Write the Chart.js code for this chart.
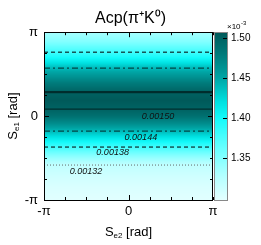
<!DOCTYPE html>
<html><head><meta charset="utf-8">
<script src="https://cdn.jsdelivr.net/npm/chart.js@4/dist/chart.umd.min.js"></script>
<style>html,body{margin:0;padding:0;background:#fff}#wrap{width:261px;height:245px}</style>
</head><body><div id="wrap"><canvas id="c" width="261" height="245"></canvas></div>
<script>
const PI = Math.PI;
// Acp profile (×10^-3) versus S_e1, constant along S_e2
const rowSe1 = [-PI, -2.6, -2.2, -1.83, -1.5, -1.16, -0.85, -0.56, -0.3, 0, 0.26, 0.58, 0.898, 1.3, 1.795, 2.1, 2.394, 2.8, PI];
const rowAcp = [1.300, 1.305, 1.312, 1.320, 1.347, 1.380, 1.412, 1.440, 1.465, 1.488, 1.500, 1.507, 1.500, 1.475, 1.440, 1.408, 1.380, 1.350, 1.333];
// contour crossings
const contourLevel = [1.32, 1.38, 1.38, 1.44, 1.44, 1.50, 1.50];
const contourSe1 = [-1.833, -1.159, 2.394, -0.561, 1.795, 0.262, 0.898];
// contour labels
const labelText = ['0.00150', '0.00144', '0.00138', '0.00132'];
const labelSe2 = [1.10, 0.46, -0.59, -1.58];
const labelSe1 = [0.0, -0.81, -1.38, -2.09];
// axes
const axisTicks = [-PI, 0, PI];
const axisTickLabels = ['-π', '0', 'π'];
const cbTicks = [1.35, 1.40, 1.45, 1.50];
const cbRange = [1.298, 1.507];

const FONT = "'Liberation Sans', Arial, Helvetica, sans-serif";

const cmapStops = [
  [1.298, [228,255,255]],
  [1.33, [175,255,255]],
  [1.36, [110,255,255]],
  [1.40, [20,250,250]],
  [1.42, [0,225,225]],
  [1.45, [0,165,165]],
  [1.48, [0,122,122]],
  [1.507, [0,90,90]]
];
function cmap(v){
  if (v <= cmapStops[0][0]) return 'rgb(' + cmapStops[0][1].join(',') + ')';
  for (let i = 1; i < cmapStops.length; i++) {
    if (v <= cmapStops[i][0]) {
      const a = cmapStops[i-1], b = cmapStops[i];
      const t = (v - a[0]) / (b[0] - a[0]);
      const c = a[1].map((x, k) => Math.round(x + (b[1][k] - x) * t));
      return 'rgb(' + c.join(',') + ')';
    }
  }
  return 'rgb(' + cmapStops[cmapStops.length-1][1].join(',') + ')';
}
function profile(y){
  if (y <= rowSe1[0]) return rowAcp[0];
  for (let i = 1; i < rowSe1.length; i++) {
    if (y <= rowSe1[i]) {
      const t = (y - rowSe1[i-1]) / (rowSe1[i] - rowSe1[i-1]);
      return rowAcp[i-1] + (rowAcp[i] - rowAcp[i-1]) * t;
    }
  }
  return rowAcp[rowAcp.length-1];
}

const styleFor = {
  1.32: {color: 'rgba(90,90,90,0.9)', dash: [1, 2], width: 1},
  1.38: {color: '#000', dash: [4, 3], width: 1},
  1.44: {color: 'rgba(0,50,50,0.85)', dash: [6, 3, 2, 3], width: 1.2},
  1.50: {color: 'rgba(0,40,40,0.9)', dash: [], width: 1.3}
};

const datasets = contourLevel.map((lv, i) => {
  const s = styleFor[lv];
  return {
    type: 'line',
    data: [{x: -PI, y: contourSe1[i]}, {x: PI, y: contourSe1[i]}],
    borderColor: s.color, borderDash: s.dash,
    borderWidth: (lv === 1.50 && contourSe1[i] > 0.5) ? 2.2 : s.width,
    pointRadius: 0, fill: false
  };
});

const heatmap = {
  id: 'heatmap',
  beforeDatasetsDraw(chart){
    const {ctx, chartArea: a, scales} = chart;
    const ys = scales.y;
    ctx.save();
    for (let py = Math.floor(a.top); py < a.bottom; py++) {
      const v = profile(ys.getValueForPixel(py + 0.5));
      ctx.fillStyle = cmap(v);
      ctx.fillRect(a.left, py, a.right - a.left, 1);
    }
    ctx.restore();
  },
  afterDatasetsDraw(chart){
    const {ctx, chartArea: a, scales} = chart;
    const xs = scales.x, ys = scales.y, cb = scales.cb;
    ctx.save();
    // contour labels
    ctx.font = "italic 9px " + FONT;
    ctx.fillStyle = '#111';
    ctx.textAlign = 'center'; ctx.textBaseline = 'middle';
    labelText.forEach((t, i) => ctx.fillText(t, xs.getPixelForValue(labelSe2[i]), ys.getPixelForValue(labelSe1[i])));
    // frame
    ctx.strokeStyle = '#000'; ctx.lineWidth = 1;
    ctx.strokeRect(Math.round(a.left) + 0.5, Math.round(a.top) + 0.5, Math.round(a.right - a.left) - 1, Math.round(a.bottom - a.top));
    // ticks every pi/4
    ctx.beginPath();
    for (let k = -4; k <= 4; k++) {
      const v = k * PI / 4;
      const L = k === 0 ? 5 : 3;
      const px = Math.round(xs.getPixelForValue(v)) + 0.5;
      const py = Math.round(ys.getPixelForValue(v)) + 0.5;
      ctx.moveTo(px, a.bottom); ctx.lineTo(px, a.bottom - L);
      ctx.moveTo(px, a.top); ctx.lineTo(px, a.top + L);
      ctx.moveTo(a.left, py); ctx.lineTo(a.left + L, py);
      ctx.moveTo(a.right, py); ctx.lineTo(a.right - L, py);
    }
    ctx.stroke();
    // colorbar
    const x0 = a.right + 1, x1 = a.right + 15;
    const t0 = cb.getPixelForValue(cbRange[1]), b0 = cb.getPixelForValue(cbRange[0]);
    for (let py = Math.floor(t0); py < b0; py++) {
      ctx.fillStyle = cmap(cb.getValueForPixel(py + 0.5));
      ctx.fillRect(x0, py, x1 - x0, 1);
    }
    ctx.strokeStyle = '#888'; ctx.lineWidth = 1;
    ctx.strokeRect(x0 + 0.5, Math.round(t0) + 0.5, x1 - x0 - 1, Math.round(b0 - t0));
    ctx.strokeStyle = '#000';
    ctx.beginPath();
    cbTicks.forEach(v => {
      const py = Math.round(cb.getPixelForValue(v)) + 0.5;
      ctx.moveTo(x1 - 5, py); ctx.lineTo(x1 - 1, py);
    });
    ctx.stroke();
    // exponent
    ctx.fillStyle = '#000';
    ctx.textAlign = 'left'; ctx.textBaseline = 'alphabetic';
    ctx.font = "8px " + FONT;
    ctx.fillText('×10', x1 - 1, a.top - 3);
    ctx.font = "6px " + FONT;
    ctx.fillText('-3', x1 + 13, a.top - 7);
    // axis titles with subscripts
    function subTitle(main, sub, rest){
      ctx.font = "13px " + FONT;
      const w1 = ctx.measureText(main).width;
      ctx.font = "8px " + FONT;
      const w2 = ctx.measureText(sub).width;
      ctx.font = "13px " + FONT;
      const w3 = ctx.measureText(rest).width;
      const W = w1 + w2 + w3;
      let x = -W / 2;
      ctx.textAlign = 'left'; ctx.textBaseline = 'middle';
      ctx.fillText(main, x, 0); x += w1;
      ctx.font = "8px " + FONT;
      ctx.fillText(sub, x, 4); x += w2;
      ctx.font = "13px " + FONT;
      ctx.fillText(rest, x, 0);
    }
    ctx.save();
    ctx.translate((a.left + a.right) / 2, 232);
    subTitle('S', 'e2', ' [rad]');
    ctx.restore();
    ctx.save();
    ctx.translate(13, (a.top + a.bottom) / 2);
    ctx.rotate(-PI / 2);
    subTitle('S', 'e1', ' [rad]');
    ctx.restore();
    ctx.restore();
  }
};

function fixedTicks(list){ return s => { s.ticks = list.map(v => ({value: v})); }; }

new Chart(document.getElementById('c'), {
  type: 'scatter',
  data: {datasets},
  plugins: [heatmap],
  options: {
    responsive: false, animation: false, events: [],
    layout: {padding: {left: 0, right: 0, top: 0, bottom: 0}},
    plugins: {
      legend: {display: false}, tooltip: {enabled: false},
      title: {display: true, text: 'Acp(π⁺K⁰)', color: '#000',
        font: {family: FONT, size: 16, weight: 'normal'}, padding: {top: 9, bottom: 4}}
    },
    scales: {
      x: {type: 'linear', min: -PI, max: PI, grid: {display: false, drawTicks: false}, border: {display: false},
        afterBuildTicks: fixedTicks(axisTicks),
        afterFit: s => { s.height = 45; },
        ticks: {autoSkip: false, maxRotation: 0, padding: 4, color: '#000', font: {family: FONT, size: 13},
          callback: (v) => axisTickLabels[axisTicks.findIndex(t => Math.abs(t - v) < 1e-6)]}},
      y: {type: 'linear', min: -PI, max: PI, grid: {display: false, drawTicks: false}, border: {display: false},
        afterBuildTicks: fixedTicks(axisTicks),
        afterFit: s => { s.width = 44; },
        ticks: {autoSkip: false, padding: 6, color: '#000', font: {family: FONT, size: 13},
          callback: (v) => axisTickLabels[axisTicks.findIndex(t => Math.abs(t - v) < 1e-6)]}},
      cb: {type: 'linear', axis: 'y', position: 'right', min: cbRange[0], max: cbRange[1],
        grid: {display: false, drawTicks: false}, border: {display: false},
        afterBuildTicks: fixedTicks(cbTicks),
        afterFit: s => { s.width = 48; },
        ticks: {autoSkip: false, padding: 18, color: '#000', font: {family: FONT, size: 10},
          callback: v => v.toFixed(2)}}
    }
  }
});
</script></body></html>
